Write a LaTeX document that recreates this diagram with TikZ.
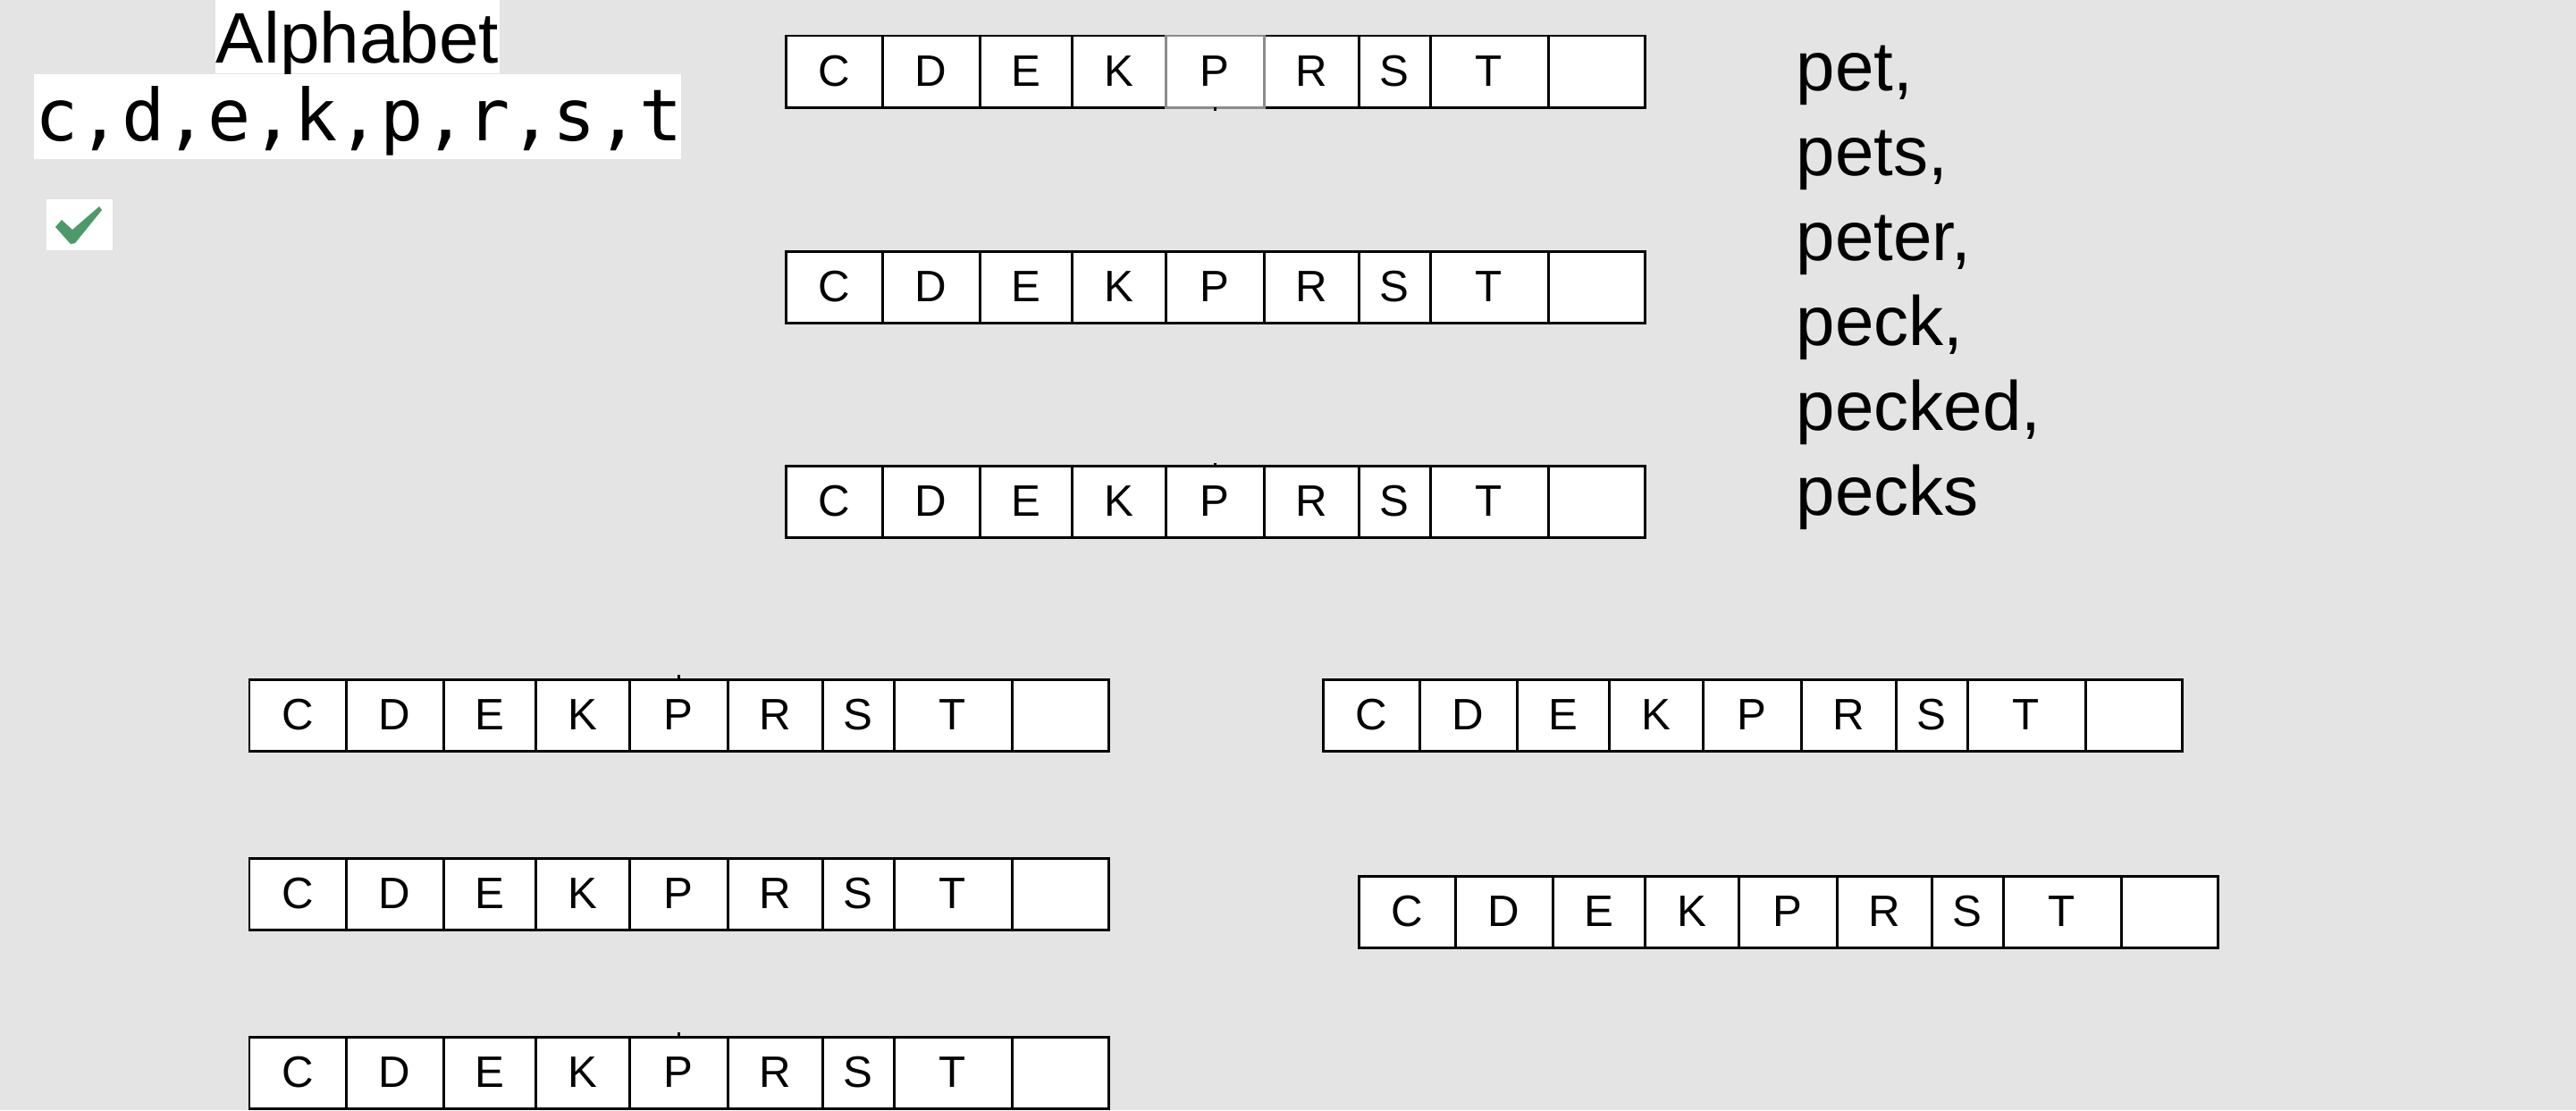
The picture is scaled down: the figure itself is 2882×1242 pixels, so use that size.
\documentclass[tikz,border=0pt]{standalone}
\usepackage{fontspec}
\setmainfont{Liberation Sans}
\newfontfamily\alphamono{DejaVu Sans Mono}
\definecolor{bg}{RGB}{228,228,228}
\definecolor{checkgreen}{RGB}{76,154,104}
\newcommand\drawcellrow[3]{%
  \foreach \a/\b/\l [count=\i] in {0/108.5/C,108.5/217/D,217/320/E,320/425/K,425/535.5/P,535.5/641/R,641/721/S,721/853/T,853/961/{}} {
    \node[cellbox, minimum width={(\b-\a)*0.01cm}, anchor=north west] (#1-\i) at ({#2+\a},{#3}) {\l};
  }%
}
\begin{document}
\begin{tikzpicture}[x=0.01cm,y=-0.01cm,
  cellbox/.style={draw=black, fill=white, line width=0.85pt, inner sep=0pt, outer sep=0pt,
    minimum height=0.8cm, font=\fontsize{14}{17}\selectfont},
  word/.style={anchor=base west, inner sep=0pt, font=\fontsize{22.2}{26}\selectfont},
  tick/.style={line width=0.85pt}]
\fill[bg] (0,0) rectangle (2882,1242);
\useasboundingbox (0,0) rectangle (2882,1242);

% alphabet label
\fill[white] (241,0) rectangle (559,82);
\node[anchor=base, inner sep=0pt, font=\fontsize{22.8}{26}\selectfont] (alphalabel) at (400,70) {Alphabet};
\fill[white] (38,83) rectangle (762,178);
\node[anchor=base west, inner sep=0pt, font=\alphamono\fontsize{22.8}{26}\selectfont] (alphalist) at (39,157) {c,d,e,k,p,r,s,t};

% check mark
\fill[white] (52,223) rectangle (126,280);
\fill[checkgreen] (62,254) -- (69,246) -- (81,257) -- (111,231) -- (114,235) -- (84,272) -- (79,273) -- cycle;

% arrays
\drawcellrow{ta}{879}{40}
\drawcellrow{tb}{879}{281}
\drawcellrow{tc}{879}{521}
\drawcellrow{ba}{279}{760}
\drawcellrow{bb}{279}{960}
\drawcellrow{bc}{279}{1160}
\drawcellrow{ra}{1480}{760}
\drawcellrow{rb}{1520}{980}

% grey P cell of first array
\draw[black!45, line width=0.85pt] (ta-5.north west) rectangle (ta-5.south east);
\draw[tick] (ta-5.south) -- ++(0,4);
\draw[tick] (ba-5.north) -- ++(0,-5);
\draw[tick] (bc-5.north) -- ++(0,-5);
\draw[tick] (tc-5.north) -- ++(0,-3);

% words
\node[word] (w1) at (2009,101.7) {pet,};
\node[word] (w2) at (2009,196.7) {pets,};
\node[word] (w3) at (2009,291.7) {peter,};
\node[word] (w4) at (2009,386.7) {peck,};
\node[word] (w5) at (2009,481.7) {pecked,};
\node[word] (w6) at (2009,576.7) {pecks};
\end{tikzpicture}
\end{document}
